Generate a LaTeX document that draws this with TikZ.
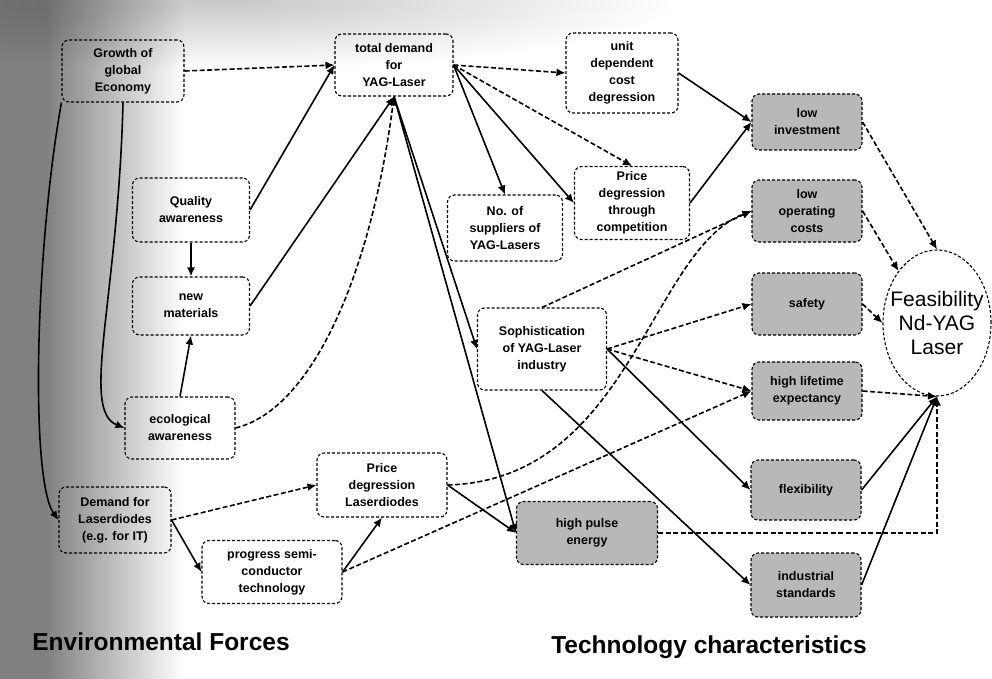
\documentclass[tikz,border=0pt]{standalone}
\usepackage{fontspec}
\setmainfont{Liberation Sans}
\usetikzlibrary{arrows.meta,shapes.geometric,fadings}
\tikzfading[name=haze, inner color=transparent!78, outer color=transparent!100]
\begin{document}
\begin{tikzpicture}[x=1pt,y=-1pt,
  wh/.style 2 args={minimum width=#1pt,minimum height=#2pt},
  box/.style={draw, densely dashed, rounded corners=7pt, line width=1.1pt,
    align=center, inner sep=2pt, font=\bfseries\fontsize{12.5}{17}\selectfont},
  gbox/.style={box, fill=black!28},
  link/.style={line width=1.6pt, -{Latex[length=9pt,width=8pt]}},
  dlink/.style={link, dash pattern=on 5pt off 2.5pt},
  caption/.style={font=\bfseries\fontsize{24.5}{28}\selectfont}
]
\useasboundingbox (0,0) rectangle (992,679);
% paper and the grey band along the left and top edges
\fill[white] (0,0) rectangle (992,679);
\fill[black!50] (0,0) rectangle (45,679);
\shade[left color=black!50, right color=white] (45,0) rectangle (185,679);
\fill[black, path fading=haze] (220,0) ellipse [x radius=460pt, y radius=70pt];

% environmental forces
\node[box, wh={122}{62}] (growth) at (123,71) {Growth of\\global\\Economy};
\node[box, wh={118}{62}] (total) at (394,65) {total demand\\for\\YAG-Laser};
\node[box, wh={112}{80}] (unit) at (622,73) {unit\\dependent\\cost\\degression};
\node[box, wh={117}{64}] (quality) at (191,210) {Quality\\awareness};
\node[box, wh={117}{58}] (newmat) at (191,306) {new\\materials};
\node[box, wh={110}{62}] (eco) at (180,428) {ecological\\awareness};
\node[box, wh={112}{66}] (demand) at (115,520) {Demand for\\Laserdiodes\\(e.g. for IT)};
\node[box, wh={130}{64}] (pdiodes) at (382,485) {Price\\degression\\Laserdiodes};
\node[box, wh={140}{63}] (progress) at (272,572) {progress semi-\\conductor\\technology};
\node[box, wh={115}{66}] (suppliers) at (505,228) {No. of\\suppliers of\\YAG-Lasers};
\node[box, wh={115}{73}] (pcomp) at (632,203) {Price\\degression\\through\\competition};
\node[box, wh={129}{82}] (soph) at (542,349) {Sophistication\\of YAG-Laser\\industry};

% technology characteristics
\node[gbox, wh={110}{56}] (lowinv) at (807,122) {low\\investment};
\node[gbox, wh={110}{62}] (lowop) at (807,211) {low\\operating\\costs};
\node[gbox, wh={110}{62}] (safety) at (807,304) {safety};
\node[gbox, wh={110}{58}] (life) at (807,391) {high lifetime\\expectancy};
\node[gbox, wh={110}{60}] (flex) at (806,490) {flexibility};
\node[gbox, wh={141}{63}] (pulse) at (587,533) {high pulse\\energy};
\node[gbox, wh={110}{64}] (indus) at (806,585) {industrial\\standards};

% target
\node[draw, densely dashed, line width=1.1pt, ellipse, inner sep=0pt,
  minimum width=108pt, minimum height=146pt] (feas) at (937,323) {};
\node[align=center, font=\fontsize{21}{24}\selectfont] (feastext) at (feas.center)
  {Feasibility\\Nd-YAG\\Laser};

% influences
\draw[dlink] (growth.east) -- (total.west);
\draw[link] (growth.south west) .. controls (35,250) and (30,480) .. (demand.west);
\draw[link] (growth.south) .. controls (118,300) and (80,410) .. (eco.west);
\draw[link] (quality.east) -- (total.west);
\draw[link] (quality.south) -- (newmat.north);
\draw[link] (eco.north) -- (newmat.south);
\draw[link] (newmat.east) -- (total.south);
\draw[dlink] (eco.east) .. controls (310,410) and (370,280) .. (total.south);
\draw[link] (total.south) -- (soph.west);
\draw[link] (total.south) -- (pulse.west);
\draw[dlink] (total.east) -- (unit.west);
\draw[link] (total.east) -- (suppliers.north);
\draw[dlink] (total.east) -- (pcomp.north);
\draw[link] (total.east) -- (pcomp.west);
\draw[link] (unit.east) -- (lowinv.west);
\draw[link] (pcomp.east) -- (lowinv.west);
\draw[dlink] (soph.north) -- (lowop.west);
\draw[dlink] (pdiodes.east) .. controls (630,480) and (650,250) .. (lowop.west);
\draw[link] (pdiodes.east) -- (pulse.west);
\draw[dlink] (demand.east) -- (pdiodes.west);
\draw[link] (demand.east) -- (progress.west);
\draw[link] (progress.east) -- (pdiodes.south);
\draw[dlink] (progress.east) -- (life.west);
\draw[dlink] (soph.east) -- (safety.west);
\draw[dlink] (soph.east) -- (life.west);
\draw[link] (soph.east) -- (flex.west);
\draw[link] (soph.south) -- (indus.west);
\draw[dlink] (lowinv.east) -- (feas.north);
\draw[dlink] (lowop.east) -- (feas.north west);
\draw[dlink] (safety.east) -- (feas.west);
\draw[dlink] (life.east) -- (feas.south);
\draw[link] (flex.east) -- (feas.south);
\draw[link] (indus.east) -- (feas.south);
\draw[dlink] (pulse.east) -| (feas.south);

% group captions
\node[caption] (envlabel) at (161,642) {Environmental Forces};
\node[caption] (techlabel) at (709,647) {Technology characteristics};
\end{tikzpicture}
\end{document}
